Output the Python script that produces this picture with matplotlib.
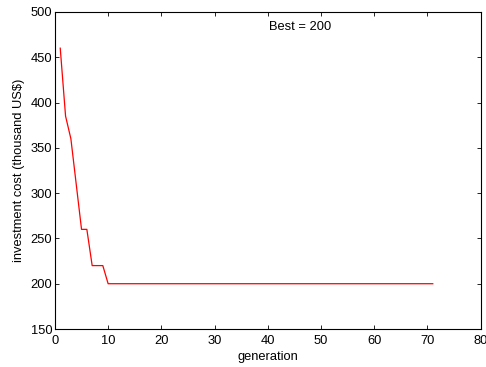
import numpy as np
import matplotlib
matplotlib.use('Agg')
import matplotlib.pyplot as plt

plt.rcParams['font.family'] = ['Liberation Sans', 'DejaVu Sans']

# best cost per generation
generation = np.arange(1, 72)
cost_head = [460, 385, 360, 310, 260, 260, 220, 220, 220]
cost = np.array(cost_head + [200] * (len(generation) - len(cost_head)))

xticks = np.arange(0, 81, 10)
yticks = np.arange(150, 501, 50)

fig = plt.figure(figsize=(4.86, 3.67), dpi=100)
ax = fig.add_axes([0.113, 0.1035, 0.876, 0.864])

ax.plot(generation, cost, color='red', lw=0.9)

ax.set_xlim(0, 80)
ax.set_ylim(150, 500)
ax.set_xticks(xticks)
ax.set_yticks(yticks)
ax.tick_params(direction='in', top=True, right=True, labelsize=9.3, length=3, width=0.6, pad=2)
ax.tick_params(axis='x', pad=4)
for s in ax.spines.values():
    s.set_linewidth(0.8)

ax.set_xlabel('generation', fontsize=9.3, labelpad=3)
ax.set_ylabel('investment cost (thousand US$)', fontsize=9.3, labelpad=4)
ax.text(46, 483, 'Best = 200', fontsize=9.3, ha='center', va='center')

fig.savefig('out.png', dpi=100)
